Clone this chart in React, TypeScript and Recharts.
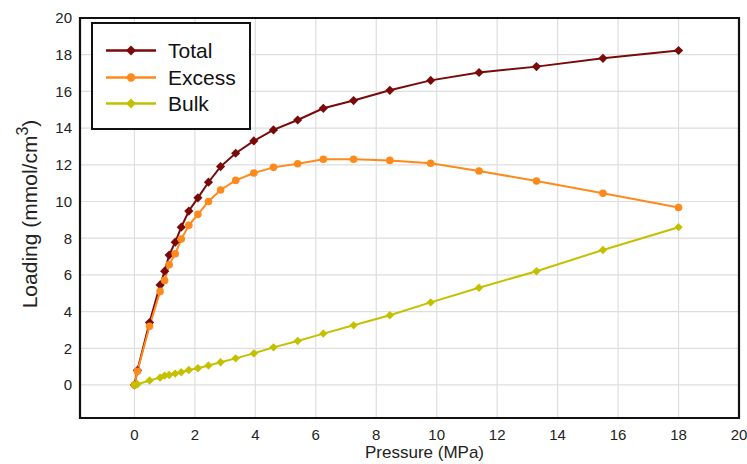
import React from 'react'
import {
  CartesianGrid,
  Line,
  LineChart,
  ReferenceArea,
  XAxis,
  YAxis,
} from 'recharts'

// pressure (MPa) shared by all three isotherms
const pressure = [
  0, 0.1, 0.5, 0.85, 1.0, 1.15, 1.35, 1.55, 1.8, 2.1, 2.45, 2.85, 3.35, 3.95,
  4.6, 5.4, 6.25, 7.25, 8.45, 9.8, 11.4, 13.3, 15.5, 18.0,
]
// loading (mmol/cm3)
const total = [
  0, 0.8, 3.4, 5.45, 6.2, 7.08, 7.78, 8.6, 9.48, 10.2, 11.05, 11.9, 12.63,
  13.3, 13.9, 14.44, 15.08, 15.5, 16.06, 16.6, 17.03, 17.35, 17.8, 18.23,
]
const excess = [
  0, 0.75, 3.2, 5.1, 5.7, 6.55, 7.15, 7.95, 8.7, 9.3, 10.0, 10.63, 11.15,
  11.55, 11.86, 12.06, 12.3, 12.3, 12.24, 12.08, 11.66, 11.12, 10.45, 9.67,
]
const bulk = [
  0, 0.04, 0.24, 0.4, 0.51, 0.54, 0.62, 0.69, 0.82, 0.91, 1.06, 1.24, 1.45,
  1.72, 2.05, 2.4, 2.8, 3.25, 3.8, 4.5, 5.3, 6.2, 7.36, 8.6,
]
const ticks = [0, 2, 4, 6, 8, 10, 12, 14, 16, 18, 20]

const series = [
  { key: 'total', name: 'Total', color: '#7a0a0a', shape: 'diamond', size: 4.6 },
  { key: 'excess', name: 'Excess', color: '#ff8a1c', shape: 'circle', size: 3.8 },
  { key: 'bulk', name: 'Bulk', color: '#c4c000', shape: 'diamond', size: 4.2 },
]

const rows = pressure.map((p, i) => ({
  p,
  total: total[i],
  excess: excess[i],
  bulk: bulk[i],
}))

const FONT = '"Liberation Sans", Arial, sans-serif'

function Marker({ cx, cy, color, shape, size }: { cx: number; cy: number; color: string; shape: string; size: number }) {
  if (shape === 'circle') {
    return <circle cx={cx} cy={cy} r={size} fill={color} />
  }
  return (
    <path
      d={`M${cx},${cy - size} L${cx + size},${cy} L${cx},${cy + size} L${cx - size},${cy} Z`}
      fill={color}
    />
  )
}

// boxed legend in the upper-left corner of the plot
function LegendBox() {
  return (
    <div
      style={{
        position: 'absolute',
        left: 91,
        top: 22,
        width: 156,
        height: 104,
        border: '2px solid #111',
        background: '#fff',
        fontFamily: FONT,
        fontSize: 21,
        color: '#111',
      }}
    >
      {series.map((s, i) => (
        <div
          key={s.key}
          style={{ position: 'absolute', left: 0, top: 13 + i * 26.7, height: 27, display: 'flex', alignItems: 'center' }}
        >
          <svg width={75} height={27} style={{ display: 'block' }}>
            <line x1={13} x2={63} y1={13.5} y2={13.5} stroke={s.color} strokeWidth={2.5} />
            <Marker cx={38} cy={13.5} color={s.color} shape={s.shape} size={s.shape === 'circle' ? 4.2 : 5} />
          </svg>
          <span style={{ lineHeight: '27px' }}>{s.name}</span>
        </div>
      ))}
    </div>
  )
}

function YTitle({ viewBox }: any) {
  const cx = viewBox.x + 37
  const cy = 214
  return (
    <text
      transform={`translate(${cx},${cy}) rotate(-90)`}
      textAnchor="middle"
      fontFamily={FONT}
      fontSize={21}
      fill="#222"
    >
      <tspan>Loading (mmol/cm</tspan>
      <tspan dy={-9} fontSize={16}>3</tspan>
      <tspan dy={9}>)</tspan>
    </text>
  )
}

function XTitle({ viewBox }: any) {
  return (
    <text
      x={viewBox.x + viewBox.width / 2 + 15}
      y={viewBox.y + 40}
      textAnchor="middle"
      fontFamily={FONT}
      fontSize={17}
      fill="#222"
    >
      Pressure (MPa)
    </text>
  )
}

export default function App() {
  return (
    <div style={{ position: 'absolute', left: 0, top: 0, width: 747, height: 464, background: '#fff' }}>
      <LineChart
        width={747}
        height={464}
        data={rows}
        margin={{ top: 18, right: 8, bottom: 0, left: 0 }}
      >
        <CartesianGrid stroke="#dedede" strokeWidth={1.2} />
        <XAxis
          dataKey="p"
          type="number"
          domain={[-1.8, 20]}
          ticks={ticks}
          allowDataOverflow
          height={46}
          axisLine={false}
          tickLine={false}
          tickSize={6}
          tickMargin={5}
          tick={{ fontFamily: FONT, fontSize: 15, fill: '#222' }}
          label={<XTitle />}
        />
        <YAxis
          type="number"
          domain={[-1.8, 20]}
          ticks={ticks}
          allowDataOverflow
          width={80}
          axisLine={false}
          tickLine={false}
          tickSize={6}
          tickMargin={2}
          tick={{ fontFamily: FONT, fontSize: 15, fill: '#222' }}
          label={<YTitle />}
        />
        <ReferenceArea
          x1={-1.8}
          x2={20}
          y1={-1.8}
          y2={20}
          fill="none"
          stroke="#111"
          strokeWidth={2.2}
          ifOverflow="visible"
        />
        {series.map((s) => (
          <Line
            key={s.key}
            dataKey={s.key}
            name={s.name}
            stroke={s.color}
            strokeWidth={2}
            isAnimationActive={false}
            dot={(props: any) => (
              <Marker
                key={`${s.key}-${props.index}`}
                cx={props.cx}
                cy={props.cy}
                color={s.color}
                shape={s.shape}
                size={s.size}
              />
            )}
          />
        ))}
      </LineChart>
      <LegendBox />
    </div>
  )
}
